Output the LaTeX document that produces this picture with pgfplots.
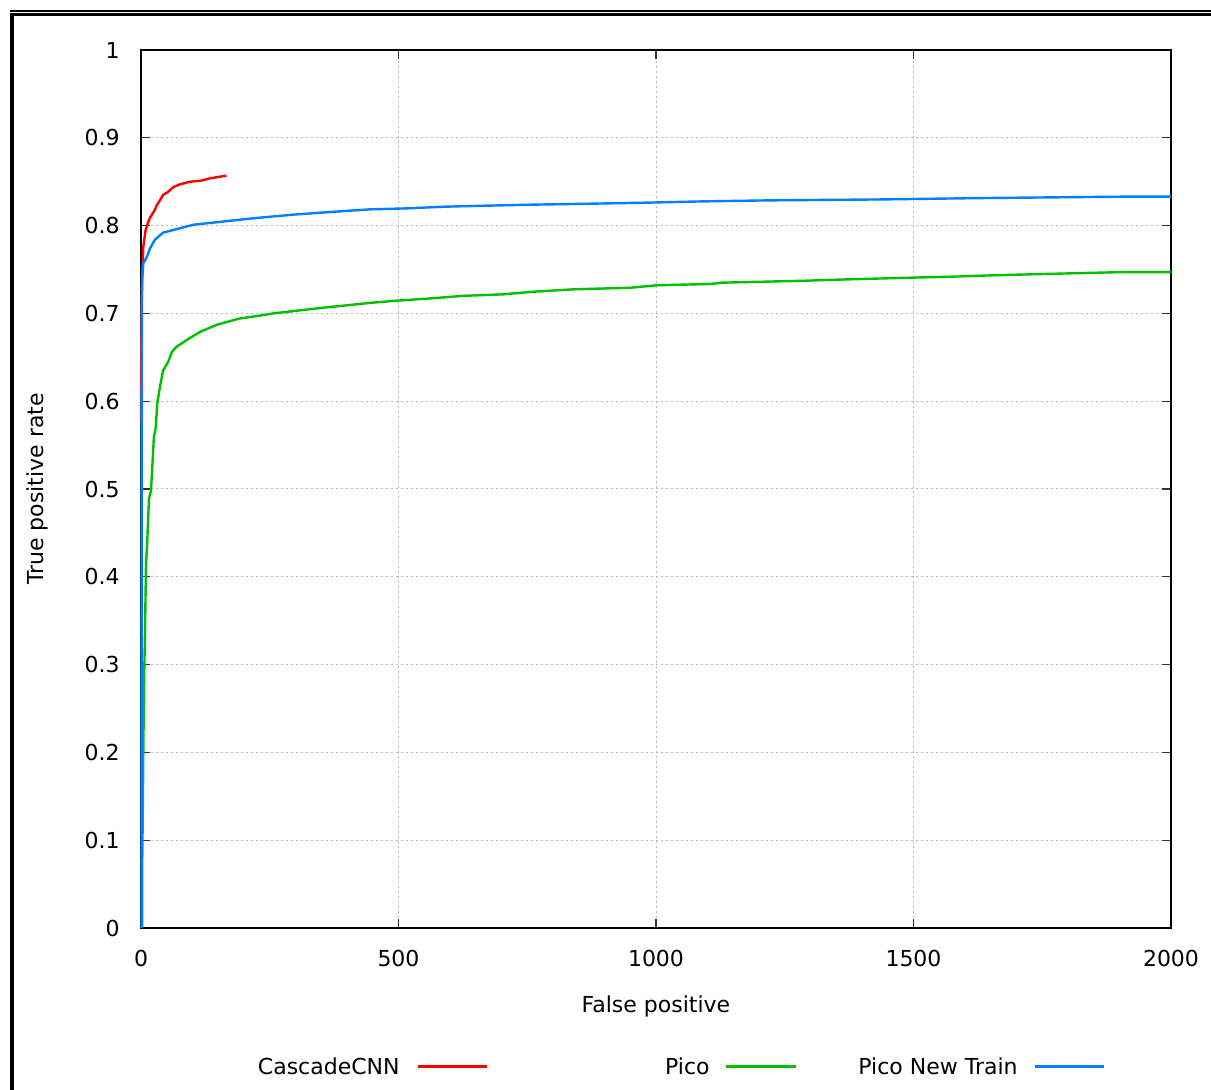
\documentclass[border=0pt]{standalone}
\usepackage{pgfplots}
\pgfplotsset{compat=1.18}
\usepackage{fontspec}
\setmainfont{DejaVu Sans}
\definecolor{gpred}{RGB}{255,0,0}
\definecolor{gpgreen}{RGB}{0,192,0}
\definecolor{gpblue}{RGB}{0,128,255}
\begin{document}
\begin{tikzpicture}[font=\fontsize{11pt}{13pt}\selectfont]
\path[use as bounding box] (0,0) rectangle (605.5pt,-545pt);
\draw[line width=0.9pt] (5pt,-5.5pt) -- (605.5pt,-5.5pt);
\draw[line width=1.1pt] (6pt,-7.3pt) -- (605.5pt,-7.3pt);
\draw[line width=1.9pt] (5.9pt,-6.4pt) -- (5.9pt,-545pt);
\begin{axis}[
  at={(70.5pt,-464pt)}, anchor=south west,
  scale only axis, width=515pt, height=439pt,
  xmin=0, xmax=2000, ymin=0, ymax=1,
  xtick={0,500,1000,1500,2000},
  ytick={0,0.1,0.2,0.3,0.4,0.5,0.6,0.7,0.8,0.9,1},
  /pgf/number format/assume math mode=true,
  /pgf/number format/set thousands separator={},
  yticklabel style={inner sep=0pt, anchor=east, xshift=-10.5pt},
  xticklabel style={inner sep=0pt, anchor=north, yshift=-11pt},
  tick align=inside,
  major tick length=4.5pt,
  tick style={black!80, line width=0.6pt},
  axis line style={black, line width=0.6pt},
  grid=major,
  major grid style={gray!55, line width=0.5pt, dash pattern=on 1pt off 1.5pt},
  xlabel={False positive},
  xlabel style={at={(axis description cs:0.5,-0.0968)}, anchor=base, inner sep=0pt},
  ylabel={True positive rate},
  ylabel style={at={(axis description cs:-0.0942,0.5)}, anchor=base, inner sep=0pt},
  clip=false,
  every axis plot/.append style={line width=1.2pt, no markers},
]
% CascadeCNN
\addplot[gpred] coordinates {
(0,0.577) (0,0.62) (1.2,0.70) (1.9,0.734) (4.5,0.776) (9,0.795) (14,0.804)
(17.5,0.809) (27,0.818) (30.5,0.823) (37,0.829) (43,0.835) (53,0.8386) (63,0.844)
(76,0.847) (95,0.850) (115,0.851) (134,0.8538) (153,0.8557) (166,0.8568)
};
% Pico
\addplot[gpgreen] coordinates {
(2,0) (2.5,0.01) (2.5,0.08) (3.5,0.134) (4.5,0.2) (5.8,0.276) (7.8,0.337) (9.7,0.413)
(12.2,0.441) (15.5,0.489) (19.4,0.498) (22,0.526) (25,0.559) (28.5,0.569) (31.7,0.598)
(37,0.617) (43,0.635) (53,0.645) (60,0.656) (69,0.662) (95,0.672) (115,0.679)
(147,0.687) (190,0.694) (225,0.697) (257,0.700) (302,0.703) (354,0.7065) (406,0.7096)
(445,0.712) (496,0.7145) (561,0.717) (626,0.720) (703,0.7217) (762,0.7247) (839,0.7274)
(950,0.7292) (1001,0.732) (1105,0.7335) (1128,0.735) (1289,0.7372) (1351,0.7384)
(1419,0.7395) (1516,0.741) (1584,0.742) (1655,0.7434) (1729,0.7445) (1804,0.7456)
(1904,0.747) (2000,0.747)
};
% Pico New Train
\addplot[gpblue] coordinates {
(1.3,0) (1.3,0.6) (1.8,0.72) (2.5,0.74) (4.5,0.757) (11,0.764) (17.5,0.774) (27,0.784)
(43,0.792) (63,0.795) (82,0.798) (102,0.801) (134,0.803) (166,0.805) (212,0.808)
(296,0.8125) (380,0.816) (445,0.8185) (516,0.8196) (587,0.8215) (665,0.8226)
(755,0.8238) (878,0.825) (972,0.826) (1085,0.8275) (1215,0.8287) (1438,0.8298)
(1639,0.8314) (1916,0.833) (2000,0.833)
};
\end{axis}
% legend
\node[anchor=base east, inner sep=0pt] at (200pt,-537pt) {CascadeCNN};
\draw[gpred, line width=1.2pt] (209pt,-533.3pt) -- (243.5pt,-533.3pt);
\node[anchor=base east, inner sep=0pt] at (355pt,-537pt) {Pico};
\draw[gpgreen, line width=1.2pt] (363pt,-533.3pt) -- (398pt,-533.3pt);
\node[anchor=base east, inner sep=0pt] at (509pt,-537pt) {Pico New Train};
\draw[gpblue, line width=1.2pt] (517.5pt,-533.3pt) -- (552pt,-533.3pt);
\end{tikzpicture}
\end{document}
